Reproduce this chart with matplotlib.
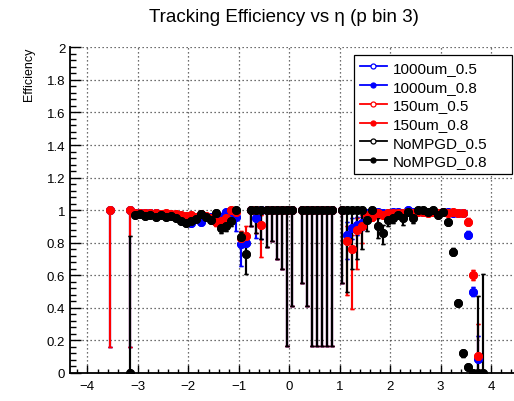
import matplotlib
matplotlib.use('Agg')
import matplotlib.pyplot as plt
import numpy as np
from matplotlib.lines import Line2D
from matplotlib.ticker import MultipleLocator, FuncFormatter

plt.rcParams['font.family'] = ['Liberation Sans', 'DejaVu Sans']

nan = np.nan

# eta bin centres that have entries
eta = [-3.55, -3.15,
       -3.05, -2.95, -2.85, -2.75, -2.65, -2.55, -2.45, -2.35, -2.25, -2.15,
       -2.05, -1.95, -1.85, -1.75, -1.65, -1.55, -1.45, -1.35, -1.25, -1.15,
       -1.05, -0.95, -0.85, -0.75, -0.65, -0.55, -0.45, -0.35, -0.25, -0.15,
       -0.05, 0.05,
       0.25, 0.35, 0.45, 0.55, 0.65, 0.75, 0.85,
       1.05, 1.15, 1.25, 1.35, 1.45, 1.55, 1.65, 1.75, 1.85, 1.95,
       2.05, 2.15, 2.25, 2.35, 2.45, 2.55, 2.65, 2.75, 2.85, 2.95,
       3.05, 3.15, 3.25, 3.35, 3.45, 3.55, 3.65, 3.75, 3.85]

# 1000um
blue_eff = [1.0, 1.0,
            0.985, 0.98, 0.98, 0.98, 0.985, 0.975, 0.975, 0.97, 0.965, 0.96,
            0.95, 0.92, 0.95, 0.93, 0.955, 0.96, 0.95, 0.96, 0.99, 0.97,
            0.96, 0.79, 0.80, 1.0, 0.95, 1.0, 1.0, 1.0, 1.0, 1.0,
            1.0, 1.0,
            1.0, 1.0, 1.0, 1.0, 1.0, 1.0, 1.0,
            1.0, 0.85, 0.89, 0.91, 0.92, 0.98, 0.97, 0.99, 0.98, 0.985,
            0.99, 0.99, 0.985, 1.0, 0.99, 0.995, 0.99, 0.99, 0.995, 0.985,
            0.99, 0.99, 0.985, 0.985, 0.98, 0.85, 0.50, 0.085, nan]
blue_lo = [0.16, 0.16,
           0.975, 0.97, 0.97, 0.97, 0.975, 0.965, 0.965, 0.96, 0.955, 0.95,
           0.935, 0.90, 0.935, 0.91, 0.94, 0.94, 0.93, 0.93, 0.97, 0.94,
           0.87, 0.66, 0.73, 0.905, 0.83, 0.82, 0.775, 0.81, 0.70, 0.64,
           0.165, 0.41,
           0.55, 0.41, 0.165, 0.165, 0.165, 0.165, 0.165,
           0.55, 0.70, 0.82, 0.85, 0.88, 0.96, 0.95, 0.975, 0.965, 0.975,
           0.98, 0.98, 0.975, 0.99, 0.98, 0.985, 0.98, 0.98, 0.985, 0.975,
           0.98, 0.98, 0.975, 0.975, 0.97, 0.83, 0.47, 0.0, nan]
blue_hi = [1.0, 1.0,
           0.995, 0.99, 0.99, 0.99, 0.995, 0.985, 0.985, 0.98, 0.975, 0.97,
           0.965, 0.94, 0.965, 0.95, 0.97, 0.975, 0.97, 0.985, 1.0, 0.99,
           0.99, 0.84, 0.86, 1.0, 1.0, 1.0, 1.0, 1.0, 1.0, 1.0,
           1.0, 1.0,
           1.0, 1.0, 1.0, 1.0, 1.0, 1.0, 1.0,
           1.0, 0.93, 0.95, 0.96, 0.96, 0.995, 0.99, 1.0, 0.995, 0.995,
           1.0, 1.0, 0.995, 1.0, 1.0, 1.0, 1.0, 1.0, 1.0, 0.995,
           1.0, 1.0, 0.995, 0.995, 0.99, 0.87, 0.53, 0.23, nan]

# 150um
red_eff = [1.0, 1.0,
           0.985, 0.98, 0.985, 0.98, 0.985, 0.975, 0.98, 0.975, 0.975, 0.97,
           0.965, 0.97, 0.96, 0.975, 0.965, 0.95, 0.93, 0.935, 0.95, 1.0,
           0.99, 0.83, 0.84, 1.0, 1.0, 0.91, 1.0, 1.0, 1.0, 1.0,
           1.0, 1.0,
           1.0, 1.0, 1.0, 1.0, 1.0, 1.0, 1.0,
           1.0, 0.81, 0.76, 0.88, 0.90, 0.97, 0.96, 0.98, 0.97, 0.98,
           0.98, 0.985, 0.98, 0.99, 0.985, 0.99, 0.99, 0.985, 0.99, 0.98,
           0.99, 0.985, 0.99, 0.985, 0.98, 0.93, 0.60, 0.107, nan]
red_lo = [0.16, 0.16,
          0.975, 0.97, 0.975, 0.97, 0.975, 0.965, 0.97, 0.965, 0.965, 0.96,
          0.955, 0.96, 0.95, 0.965, 0.95, 0.93, 0.90, 0.905, 0.92, 0.98,
          0.97, 0.79, 0.79, 0.905, 0.86, 0.71, 0.775, 0.81, 0.70, 0.64,
          0.165, 0.41,
          0.55, 0.41, 0.165, 0.165, 0.165, 0.165, 0.165,
          0.55, 0.48, 0.39, 0.64, 0.80, 0.95, 0.94, 0.96, 0.95, 0.965,
          0.965, 0.975, 0.97, 0.98, 0.975, 0.98, 0.98, 0.975, 0.98, 0.97,
          0.98, 0.975, 0.98, 0.975, 0.97, 0.91, 0.57, 0.02, nan]
red_hi = [1.0, 1.0,
          0.995, 0.99, 0.995, 0.99, 0.995, 0.985, 0.99, 0.985, 0.985, 0.98,
          0.975, 0.98, 0.97, 0.985, 0.98, 0.97, 0.96, 0.965, 0.98, 1.0,
          1.0, 0.87, 0.90, 1.0, 1.0, 0.97, 1.0, 1.0, 1.0, 1.0,
          1.0, 1.0,
          1.0, 1.0, 1.0, 1.0, 1.0, 1.0, 1.0,
          1.0, 0.90, 0.85, 0.95, 0.97, 0.99, 0.98, 1.0, 0.99, 0.995,
          0.995, 0.995, 0.99, 1.0, 0.995, 1.0, 1.0, 0.995, 1.0, 0.99,
          1.0, 0.995, 1.0, 0.995, 0.99, 0.95, 0.63, 0.30, nan]

# NoMPGD
black_eff = [nan, 0.0,
             0.97, 0.975, 0.965, 0.97, 0.955, 0.97, 0.96, 0.965, 0.95, 0.935,
             0.92, 0.935, 0.945, 0.975, 0.96, 0.94, 0.98, 0.89, 0.90, 0.935,
             1.0, 0.835, 0.73, 1.0, 1.0, 1.0, 1.0, 1.0, 1.0, 1.0,
             1.0, 1.0,
             1.0, 1.0, 1.0, 1.0, 1.0, 1.0, 1.0,
             1.0, 1.0, 1.0, 1.0, 1.0, 0.94, 1.0, 0.90, 0.86, 0.94,
             0.95, 0.97, 0.95, 0.99, 0.95, 1.0, 1.0, 0.99, 1.0, 0.97,
             0.99, 0.925, 0.745, 0.43, 0.12, 0.036, 0.0, 0.0, 0.0]
black_lo = [nan, 0.0,
            0.96, 0.965, 0.955, 0.96, 0.945, 0.96, 0.95, 0.955, 0.94, 0.92,
            0.905, 0.92, 0.93, 0.96, 0.945, 0.92, 0.96, 0.86, 0.87, 0.905,
            0.97, 0.805, 0.61, 0.905, 0.86, 0.82, 0.775, 0.81, 0.70, 0.64,
            0.165, 0.41,
            0.55, 0.41, 0.165, 0.165, 0.165, 0.165, 0.165,
            0.55, 0.50, 0.64, 0.70, 0.76, 0.87, 0.94, 0.83, 0.79, 0.90,
            0.92, 0.95, 0.91, 0.97, 0.92, 0.99, 0.99, 0.98, 0.99, 0.96,
            0.98, 0.91, 0.725, 0.41, 0.10, 0.02, 0.0, 0.0, 0.0]
black_hi = [nan, 0.84,
            0.98, 0.985, 0.975, 0.98, 0.965, 0.98, 0.97, 0.975, 0.96, 0.95,
            0.935, 0.95, 0.96, 0.99, 0.975, 0.96, 1.0, 0.92, 0.93, 0.965,
            1.0, 0.865, 0.79, 1.0, 1.0, 1.0, 1.0, 1.0, 1.0, 1.0,
            1.0, 1.0,
            1.0, 1.0, 1.0, 1.0, 1.0, 1.0, 1.0,
            1.0, 1.0, 1.0, 1.0, 1.0, 0.99, 1.0, 0.95, 0.91, 0.97,
            0.98, 0.99, 0.98, 1.0, 0.97, 1.0, 1.0, 0.995, 1.0, 0.98,
            1.0, 0.94, 0.765, 0.45, 0.14, 0.05, 0.0, 0.47, 0.61]

series = [
    ("1000um_0.5", "blue", False, blue_eff, blue_lo, blue_hi),
    ("1000um_0.8", "blue", True, blue_eff, blue_lo, blue_hi),
    ("150um_0.5", "red", False, red_eff, red_lo, red_hi),
    ("150um_0.8", "red", True, red_eff, red_lo, red_hi),
    ("NoMPGD_0.5", "black", False, black_eff, black_lo, black_hi),
    ("NoMPGD_0.8", "black", True, black_eff, black_lo, black_hi),
]

W, H = 514, 402
fig = plt.figure(figsize=(W / 100, H / 100), dpi=100)
ax_left, ax_right, ax_top, ax_bot = 69.5, 514, 48.3, 374
ax = fig.add_axes([ax_left / W, (H - ax_bot) / H,
                   (ax_right - ax_left) / W, (ax_bot - ax_top) / H])

x = np.array(eta)
handles = []
for name, col, filled, eff, lo, hi in series:
    y = np.array(eff)
    m = ~np.isnan(y)
    yl = y[m] - np.array(lo)[m]
    yh = np.array(hi)[m] - y[m]
    ax.errorbar(x[m], y[m], yerr=[yl, yh], fmt='o', color=col, ms=5.4,
                mfc=col if filled else 'white', mec=col, mew=1.0,
                elinewidth=1.5, capsize=1.4, capthick=1.0, zorder=3)
    handles.append(Line2D([], [], color=col, lw=1.3, marker='o', ms=3.6,
                          mfc=col if filled else 'white', mec=col, mew=0.9,
                          label=name))

ax.set_xlim(-4.355, 4.455)
ax.set_ylim(0, 2)
ax.xaxis.set_major_locator(MultipleLocator(1))
ax.xaxis.set_minor_locator(MultipleLocator(0.2))
ax.yaxis.set_major_locator(MultipleLocator(0.2))
ax.yaxis.set_minor_locator(MultipleLocator(0.04))
ax.yaxis.set_major_formatter(FuncFormatter(lambda v, p: "%g" % round(v, 2)))
ax.tick_params(which='both', direction='in', labelsize=9.5, width=1.0)
ax.tick_params(axis='x', which='major', length=6, pad=5)
ax.tick_params(axis='x', which='minor', length=3)
ax.tick_params(axis='y', which='major', length=8, pad=3)
ax.tick_params(axis='y', which='minor', length=4)
ax.grid(True, which='major', color='0.25', linestyle=(0, (1, 2.2)), lw=0.9)
ax.set_axisbelow(True)
for s in ('top', 'right'):
    ax.spines[s].set_visible(False)
for s in ('left', 'bottom'):
    ax.spines[s].set_linewidth(1.3)

fig.text(29 / W, 1 - 48 / H, "Efficiency", rotation=90, ha='center',
         va='top', fontsize=9)
fig.text(284 / W, 1 - 18 / H, "Tracking Efficiency vs \u03b7 (p bin 3)",
         ha='center', va='center', fontsize=13.5)

aw = ax_right - ax_left
ah = ax_bot - ax_top
lx0 = (354 - ax_left) / aw
lx1 = (512 - ax_left) / aw
ly1 = (ax_bot - 56) / ah
ly0 = (ax_bot - 169) / ah
leg = ax.legend(handles=handles, loc='upper left', mode='expand',
                bbox_to_anchor=(lx0, ly0, lx1 - lx0, ly1 - ly0),
                fontsize=11, frameon=True, fancybox=False, edgecolor='black',
                framealpha=1, borderpad=0.38, labelspacing=0.31,
                handlelength=1.75, handletextpad=0.4, borderaxespad=0)
leg.get_frame().set_linewidth(0.9)

fig.savefig("out.png", dpi=100)
